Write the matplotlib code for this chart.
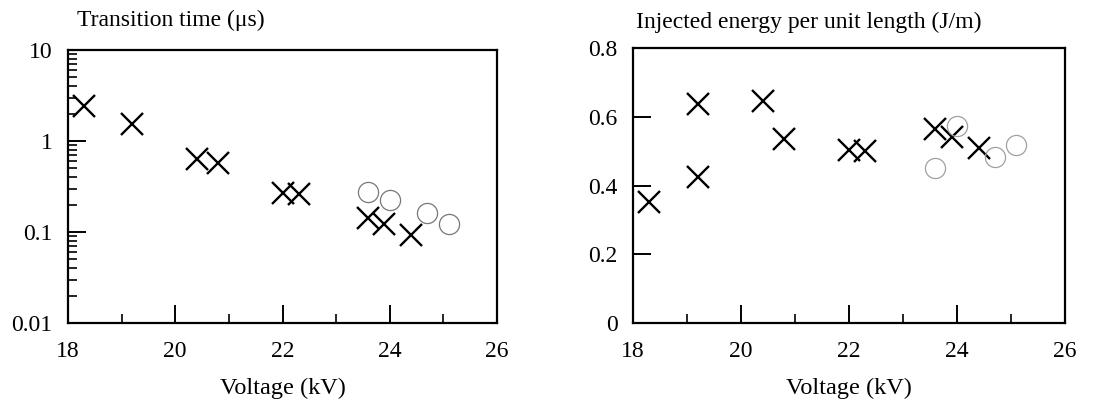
import numpy as np
import matplotlib.pyplot as plt
from matplotlib.ticker import FixedLocator, LogLocator, NullFormatter, FixedFormatter

plt.rcParams['font.family'] = ['Liberation Serif', 'DejaVu Serif']

# transition time vs voltage
time_x_volt = [18.3, 19.2, 20.4, 20.8, 22.0, 22.3, 23.6, 23.9, 24.4]
time_x_us = [2.45, 1.52, 0.64, 0.58, 0.265, 0.26, 0.141, 0.122, 0.093]
time_o_volt = [23.6, 24.0, 24.7, 25.1]
time_o_us = [0.272, 0.225, 0.162, 0.122]

# injected energy per unit length vs voltage
energy_x_volt = [18.3, 19.2, 19.2, 20.4, 20.8, 22.0, 22.3, 23.6, 23.9, 24.4]
energy_x_jm = [0.353, 0.636, 0.426, 0.646, 0.534, 0.503, 0.501, 0.563, 0.542, 0.510]
energy_o_volt = [23.6, 24.0, 24.7, 25.1]
energy_o_jm = [0.450, 0.573, 0.482, 0.518]

x_ticks = [18, 20, 22, 24, 26]
x_minor = [19, 21, 23, 25]

fig = plt.figure(figsize=(11.14, 4.0), dpi=100)
ax1 = fig.add_axes([68 / 1114, 77 / 400, 429 / 1114, 273 / 400])
ax2 = fig.add_axes([633 / 1114, 77 / 400, 432 / 1114, 275 / 400])

cross = dict(linestyle='none', marker='x', color='black', markersize=15.5, markeredgewidth=1.7)
ring = dict(linestyle='none', marker='o', markerfacecolor='none', markersize=14.5,
            markeredgewidth=0.9)

ax1.set_yscale('log')
ax1.plot(time_x_volt, time_x_us, **cross)
ax1.plot(time_o_volt, time_o_us, markeredgecolor='#777777', **ring)
ax1.set_ylim(0.01, 10)
ax1.yaxis.set_major_locator(FixedLocator([0.01, 0.1, 1, 10]))
ax1.yaxis.set_major_formatter(FixedFormatter(['0.01', '0.1', '1', '10']))
ax1.yaxis.set_minor_locator(LogLocator(base=10, subs=np.arange(2, 10)))
ax1.yaxis.set_minor_formatter(NullFormatter())

ax2.plot(energy_x_volt, energy_x_jm, **cross)
ax2.plot(energy_o_volt, energy_o_jm, markeredgecolor='#a0a0a0', **ring)
ax2.set_ylim(0, 0.8)
ax2.set_yticks([0, 0.2, 0.4, 0.6, 0.8])
ax2.set_yticklabels(['0', '0.2', '0.4', '0.6', '0.8'])

for ax in (ax1, ax2):
    ax.set_xlim(18, 26)
    ax.set_xticks(x_ticks)
    ax.set_xticks(x_minor, minor=True)
    ax.set_xticklabels([str(t) for t in x_ticks])
    for s in ax.spines.values():
        s.set_linewidth(1.6)
    ax.tick_params(which='major', direction='in', length=13, width=1.4,
                   labelsize=17, pad=11, top=False, right=False)
    ax.tick_params(axis='x', which='major', pad=13)
    ax.tick_params(which='minor', direction='in', length=6.5, width=1.2,
                   top=False, right=False)
    ax.set_xlabel('Voltage (kV)', fontsize=17.5, labelpad=11)

fig.text(77 / 1114, 1 - 20 / 400, 'Transition time (\u03bcs)', fontsize=17,
         ha='left', va='center')
fig.text(636 / 1114, 1 - 22 / 400, 'Injected energy per unit length (J/m)', fontsize=17,
         ha='left', va='center')

fig.savefig('out.png', dpi=100)
